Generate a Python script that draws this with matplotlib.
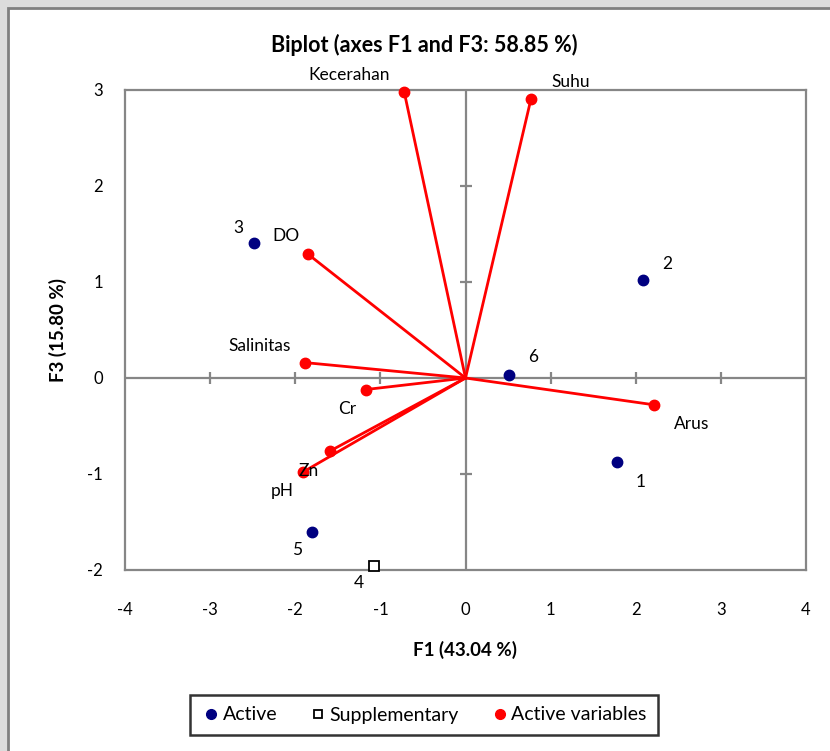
import matplotlib
matplotlib.use("Agg")
import matplotlib.pyplot as plt
from matplotlib.patches import Rectangle
from matplotlib.lines import Line2D

plt.rcParams['font.family'] = ['Lato', 'DejaVu Sans']
plt.rcParams['axes.unicode_minus'] = False

# observations (active)
obs_names = ['1', '2', '3', '5', '6']
obs_f1 = [1.78, 2.08, -2.49, -1.80, 0.51]
obs_f3 = [-0.87, 1.02, 1.41, -1.60, 0.03]

# supplementary observation
sup_names = ['4']
sup_f1 = [-1.08]
sup_f3 = [-1.96]

# active variables
var_names = ['Kecerahan', 'Suhu', 'DO', 'Salinitas', 'Cr', 'Zn', 'pH', 'Arus']
var_f1 = [-0.72, 0.77, -1.85, -1.88, -1.17, -1.59, -1.91, 2.22]
var_f3 = [2.98, 2.91, 1.29, 0.16, -0.12, -0.76, -0.98, -0.28]

xticks = [-4, -3, -2, -1, 0, 1, 2, 3, 4]
yticks = [-2, -1, 0, 1, 2, 3]

# label offsets in pixels (dx, dy)
obs_off = {'1': (24, -20), '2': (25, 16), '3': (-15, 15), '5': (-15, -18), '6': (24, 18)}
sup_off = {'4': (-15, -17)}
var_off = {'Kecerahan': (-55, 17), 'Suhu': (40, 17), 'DO': (-22, 18), 'Salinitas': (-46, 17),
           'Cr': (-19, -19), 'Zn': (-21, -20), 'pH': (-21, -19), 'Arus': (37, -19)}

W, H = 830, 751
fig = plt.figure(figsize=(W / 100, H / 100), dpi=100, facecolor='#dcdcdc')
fig.patches.append(Rectangle((8 / W, -0.01), 1.0, 1 - 8 / H + 0.01, transform=fig.transFigure,
                             facecolor='white', edgecolor='#7f7f7f', lw=2, zorder=-5))

ax = fig.add_axes([125 / W, 181 / H, 681 / W, 480 / H])
ax.set_zorder(2)
ax.set_xlim(-4, 4)
ax.set_ylim(-2, 3)
grey = '#868686'
for s in ax.spines.values():
    s.set_color(grey)
    s.set_linewidth(1.6)
ax.set_xticks(xticks)
ax.set_yticks(yticks)
ax.tick_params(length=0, labelsize=12)
ax.tick_params(axis='x', pad=23)
ax.tick_params(axis='y', pad=16)

# centre axes with crossing ticks
ax.axhline(0, color=grey, lw=1.6, zorder=1)
ax.axvline(0, color=grey, lw=1.6, zorder=1)
xt_inner = [t for t in xticks if t not in (0, -4, 4)]
yt_inner = [t for t in yticks if t not in (0, -2, 3)]
ax.plot(xt_inner, [0] * len(xt_inner), ls='none', marker='|', ms=8, mew=1.6, color=grey, zorder=1)
ax.plot([0] * len(yt_inner), yt_inner, ls='none', marker='_', ms=8, mew=1.6, color=grey, zorder=1)

# variable vectors
for name, x, y in zip(var_names, var_f1, var_f3):
    ax.plot([0, x], [0, y], color='red', lw=2, zorder=2)
ax.plot(var_f1, var_f3, ls='none', marker='o', ms=7.5, color='red', zorder=3, clip_on=False)
for name, x, y in zip(var_names, var_f1, var_f3):
    ax.annotate(name, (x, y), xytext=var_off[name], textcoords='offset pixels',
                ha='center', va='center', fontsize=12.5, annotation_clip=False)

# observations
ax.plot(obs_f1, obs_f3, ls='none', marker='o', ms=7.5, color='#000080', zorder=3)
for name, x, y in zip(obs_names, obs_f1, obs_f3):
    ax.annotate(name, (x, y), xytext=obs_off[name], textcoords='offset pixels',
                ha='center', va='center', fontsize=12.5)
ax.plot(sup_f1, sup_f3, ls='none', marker='s', ms=6.5, mfc='white', mec='black', mew=1.3,
        zorder=3, clip_on=False)
for name, x, y in zip(sup_names, sup_f1, sup_f3):
    ax.annotate(name, (x, y), xytext=sup_off[name], textcoords='offset pixels',
                ha='center', va='center', fontsize=12.5, annotation_clip=False)

fig.text(424 / W, 1 - 45 / H, 'Biplot (axes F1 and F3: 58.85 %)', ha='center', va='center',
         fontsize=15.5, fontweight='bold')
fig.text(465 / W, 1 - 650 / H, 'F1 (43.04 %)', ha='center', va='center', fontsize=13.5, fontweight='bold')
fig.text(58 / W, 1 - 330 / H, 'F3 (15.80 %)', ha='center', va='center', rotation=90,
         fontsize=13.5, fontweight='bold')

handles = [
    Line2D([], [], ls='none', marker='o', ms=7, color='#000080', label='Active'),
    Line2D([], [], ls='none', marker='s', ms=6, mfc='white', mec='black', mew=1.3, label='Supplementary'),
    Line2D([], [], ls='none', marker='o', ms=7, color='red', label='Active variables'),
]
leg = fig.legend(handles=handles, loc='center', bbox_to_anchor=(424 / W, 1 - 715 / H), ncol=3,
                 fontsize=14, frameon=True, fancybox=False, handletextpad=0.1, columnspacing=1.6,
                 handlelength=1.0, borderpad=0.6)
leg.get_frame().set_edgecolor('black')
leg.get_frame().set_linewidth(1.8)

fig.savefig('out.png', dpi=100, facecolor=fig.get_facecolor())
